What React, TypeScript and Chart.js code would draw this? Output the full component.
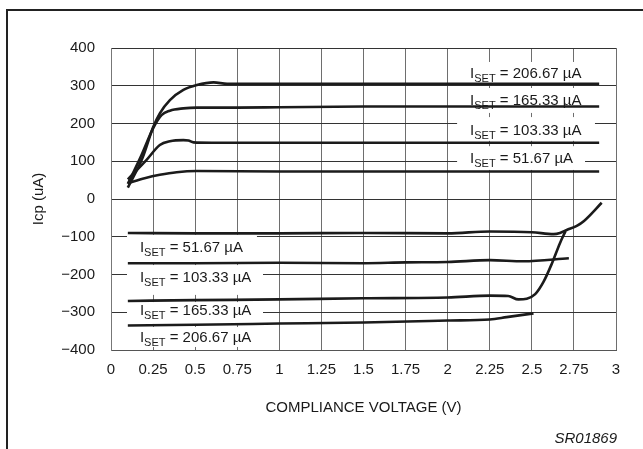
import React, { useEffect, useRef } from 'react';
import { Chart, registerables } from 'chart.js';

Chart.register(...registerables);

// ---------- Axis ticks ----------
const xTickValues = [0, 0.25, 0.5, 0.75, 1, 1.25, 1.5, 1.75, 2, 2.25, 2.5, 2.75, 3];
const xTickLabels = ['0', '0.25', '0.5', '0.75', '1', '1.25', '1.5', '1.75', '2', '2.25', '2.5', '2.75', '3'];
const yTickValues = [400, 300, 200, 100, 0, -100, -200, -300, -400];
const yTickLabels = ['400', '300', '200', '100', '0', '\u2212100', '\u2212200', '\u2212300', '\u2212400'];

// ---------- Series (compliance voltage V, Icp µA) ----------
const pos206V = [0.10, 0.19, 0.25, 0.29, 0.35, 0.43, 0.51, 0.61, 0.69, 0.80, 1.5, 2.25, 2.9];
const pos206I = [30, 112, 190, 227, 262, 289, 302, 309, 305, 305, 305, 305, 305];

const pos165V = [0.10, 0.18, 0.25, 0.30, 0.35, 0.43, 0.51, 0.75, 1.0, 1.5, 2.0, 2.9];
const pos165I = [40, 115, 187, 222, 234, 240, 242, 242, 243, 245, 245, 245];

const pos103V = [0.10, 0.21, 0.29, 0.35, 0.43, 0.46, 0.49, 0.60, 1.5, 2.9];
const pos103I = [52, 103, 143, 153, 156, 155, 150, 149, 149, 149];

const pos51V = [0.10, 0.20, 0.29, 0.39, 0.51, 1.0, 2.9];
const pos51I = [42, 55, 64, 71, 74, 73, 73];

const neg51V = [0.10, 0.5, 1.0, 1.5, 2.0, 2.25, 2.5, 2.63, 2.667, 2.707, 2.767, 2.81, 2.915];
const neg51I = [-90, -91, -91, -90, -91, -86, -88, -93, -90, -82, -71, -58, -10];

const neg103V = [0.10, 0.5, 1.0, 1.5, 1.75, 2.0, 2.25, 2.45, 2.72];
const neg103I = [-170, -170, -169, -170, -168, -167, -162, -165, -157];

const neg165V = [0.10, 0.5, 1.0, 1.5, 2.0, 2.25, 2.36, 2.42, 2.47, 2.52, 2.57, 2.62, 2.667, 2.70];
const neg165I = [-270, -268, -266, -263, -261, -256, -257, -266, -264, -252, -219, -170, -117, -85];

const neg206V = [0.10, 0.5, 1.0, 1.5, 2.0, 2.25, 2.35, 2.51];
const neg206I = [-335, -333, -330, -327, -322, -319, -313, -303];

// ---------- Curve labels ----------
const labelValues = ['206.67', '165.33', '103.33', '51.67', '51.67', '103.33', '165.33', '206.67'];
// text anchor (V, µA) and white background box [V1, V2, I-top, I-bottom]
const labelAnchorV = [2.133, 2.133, 2.133, 2.133, 0.172, 0.172, 0.172, 0.172];
const labelAnchorI = [334, 262, 183, 109, -127, -207, -294, -366];
const labelBoxes = [
  [2.056, 2.875, 363, 305],
  [2.056, 2.875, 294, 228],
  [2.056, 2.875, 217, 154],
  [2.056, 2.816, 140, 77],
  [0.095, 0.867, -95, -167],
  [0.095, 0.903, -175, -254],
  [0.095, 0.903, -273, -331],
  [0.095, 0.903, -339, -392],
];

const FONT = "'Liberation Sans', Arial, Helvetica, sans-serif";
const LINE_COLOR = '#1b1b1b';

const mk = (vs: number[], is: number[]) => vs.map((v, i) => ({ x: v, y: is[i] }));

const annotPlugin = {
  id: 'annot',
  beforeDatasetsDraw(chart: any) {
    const { ctx, scales } = chart;
    const xs = scales.x;
    const ys = scales.y;
    ctx.save();
    ctx.fillStyle = '#ffffff';
    labelBoxes.forEach((b) => {
      const x1 = xs.getPixelForValue(b[0]);
      const x2 = xs.getPixelForValue(b[1]);
      const y1 = ys.getPixelForValue(b[2]);
      const y2 = ys.getPixelForValue(b[3]);
      ctx.fillRect(x1, y1, x2 - x1, y2 - y1);
    });
    ctx.fillStyle = '#1a1a1a';
    ctx.textBaseline = 'alphabetic';
    ctx.textAlign = 'left';
    labelValues.forEach((val, i) => {
      let px = xs.getPixelForValue(labelAnchorV[i]);
      const base = ys.getPixelForValue(labelAnchorI[i]) + 5.3;
      ctx.font = `15px ${FONT}`;
      ctx.fillText('I', px, base);
      px += ctx.measureText('I').width;
      ctx.font = `11px ${FONT}`;
      ctx.fillText('SET', px, base + 4);
      px += ctx.measureText('SET').width;
      ctx.font = `15px ${FONT}`;
      ctx.fillText(` = ${val} \u00B5A`, px, base);
    });
    ctx.restore();
  },
  afterDraw(chart: any) {
    const { ctx } = chart;
    ctx.save();
    ctx.strokeStyle = '#222';
    ctx.lineWidth = 2;
    ctx.beginPath();
    ctx.moveTo(7, 449);
    ctx.lineTo(7, 10);
    ctx.lineTo(643, 10);
    ctx.stroke();
    ctx.fillStyle = '#1a1a1a';
    ctx.font = `italic 15px ${FONT}`;
    ctx.textAlign = 'right';
    ctx.textBaseline = 'alphabetic';
    ctx.fillText('SR01869', 617, 443);
    ctx.restore();
  },
};

export default function App() {
  const ref = useRef<HTMLCanvasElement | null>(null);
  useEffect(() => {
    if (!ref.current) return;
    const series = [
      mk(pos206V, pos206I), mk(pos165V, pos165I), mk(pos103V, pos103I), mk(pos51V, pos51I),
      mk(neg51V, neg51I), mk(neg103V, neg103I), mk(neg165V, neg165I), mk(neg206V, neg206I),
    ];
    const chart = new Chart(ref.current, {
      type: 'line',
      data: {
        datasets: series.map((d, i) => ({
          label: `s${i}`,
          data: d,
          borderColor: LINE_COLOR,
          borderWidth: 2.6,
          pointRadius: 0,
          fill: false,
          cubicInterpolationMode: 'monotone' as const,
        })),
      },
      options: {
        animation: false,
        responsive: false,
        devicePixelRatio: 1,
        layout: { padding: { left: 0, top: 48, right: 27, bottom: 0 } },
        plugins: { legend: { display: false }, tooltip: { enabled: false } },
        scales: {
          x: {
            type: 'linear',
            min: 0,
            max: 3,
            afterFit: (s: any) => { s.height = 99; },
            afterBuildTicks: (s: any) => { s.ticks = xTickValues.map((v) => ({ value: v })); },
            ticks: {
              padding: 11,
              color: '#1a1a1a',
              font: { family: FONT, size: 15 },
              maxRotation: 0,
              autoSkip: false,
              callback: (v: any) => { const k = xTickValues.indexOf(Number(v)); return k >= 0 ? xTickLabels[k] : ''; },
            },
            grid: { color: '#6e6e6e', lineWidth: 1, drawTicks: false },
            border: { color: '#555', width: 1 },
            title: {
              display: true,
              text: 'COMPLIANCE VOLTAGE (V)',
              color: '#1a1a1a',
              font: { family: FONT, size: 15 },
              padding: { top: 0, bottom: 32 },
            },
          },
          y: {
            type: 'linear',
            min: -400,
            max: 400,
            afterFit: (s: any) => { s.width = 111; },
            afterBuildTicks: (s: any) => { s.ticks = yTickValues.map((v) => ({ value: v })); },
            ticks: {
              padding: 16,
              color: '#1a1a1a',
              font: { family: FONT, size: 15 },
              autoSkip: false,
              callback: (v: any) => { const k = yTickValues.indexOf(Number(v)); return k >= 0 ? yTickLabels[k] : ''; },
            },
            grid: { color: '#333', lineWidth: 1, drawTicks: false },
            border: { color: '#777', width: 1 },
            title: {
              display: true,
              text: 'Icp (uA)',
              color: '#1a1a1a',
              font: { family: FONT, size: 15 },
              padding: { top: 30, bottom: 0 },
            },
          },
        },
      },
      plugins: [annotPlugin],
    });
    return () => chart.destroy();
  }, []);
  return (
    <div style={{ position: 'absolute', left: 0, top: 0, width: 643, height: 449, background: '#fff' }}>
      <canvas ref={ref} width={643} height={449} style={{ display: 'block', width: 643, height: 449 }} />
    </div>
  );
}
